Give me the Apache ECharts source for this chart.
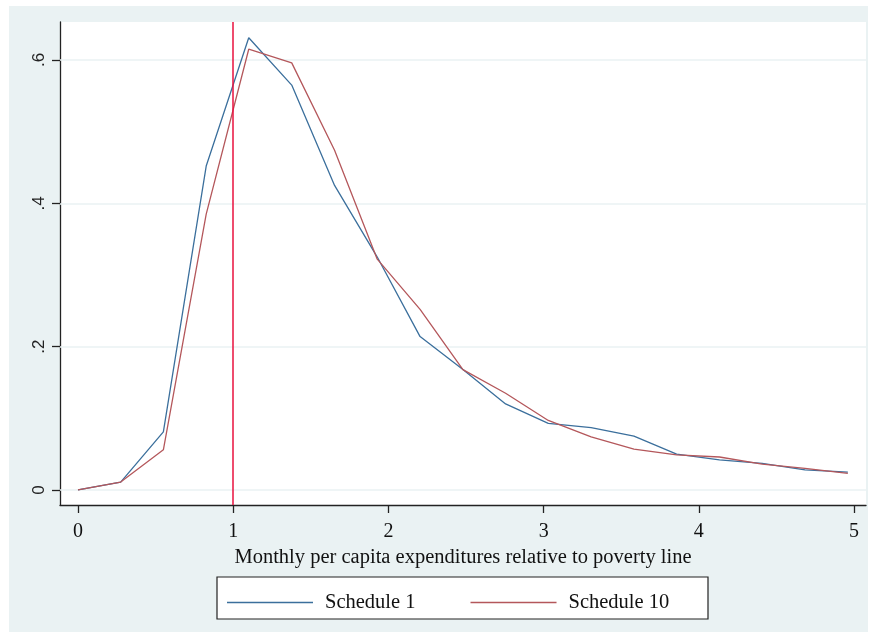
<!DOCTYPE html>
<html>
<head>
<meta charset="utf-8">
<script src="https://cdn.jsdelivr.net/npm/echarts@6/dist/echarts.min.js"></script>
<style>
  html, body { margin: 0; padding: 0; background: #fff; }
  #charts { width: 872px; height: 632px; }
</style>
</head>
<body>
<div id="charts"></div>
<script>
// values
const xValues = [0, 0.275, 0.55, 0.826, 1.1, 1.377, 1.653, 1.928, 2.204, 2.48, 2.755, 3.03, 3.306, 3.582, 3.857, 4.133, 4.408, 4.684, 4.96];
const schedule1 = [0, 0.011, 0.081, 0.452, 0.631, 0.565, 0.425, 0.325, 0.214, 0.168, 0.12, 0.093, 0.087, 0.075, 0.05, 0.042, 0.037, 0.028, 0.025];
const schedule10 = [0, 0.011, 0.056, 0.385, 0.615, 0.596, 0.474, 0.322, 0.252, 0.168, 0.135, 0.097, 0.074, 0.057, 0.049, 0.046, 0.036, 0.030, 0.023];
const xTicks = [0, 1, 2, 3, 4, 5];
const yTicks = [0, 0.2, 0.4, 0.6];
const yTickLabels = ['0', '.2', '.4', '.6'];
const povertyLine = 1;

var chartDom = document.getElementById('charts');
var myChart = echarts.init(chartDom);

const toPairs = (xs, ys) => xs.map((x, i) => [x, ys[i]]);

var option = {
    animation: false,
    backgroundColor: '#eaf2f3',
    graphic: [
        {type: 'rect', shape: {x: 0, y: 0, width: 872, height: 6}, style: {fill: '#fff'}, z: -1},
        {type: 'rect', shape: {x: 0, y: 0, width: 9, height: 632}, style: {fill: '#fff'}, z: -1},
        {type: 'rect', shape: {x: 868, y: 0, width: 4, height: 632}, style: {fill: '#fff'}, z: -1},
        {type: 'rect', shape: {x: 217, y: 577, width: 491, height: 42}, style: {fill: '#fff', stroke: '#222', lineWidth: 1.2}, z: 0}
    ],
    grid: {
        left: 60, right: 6, top: 22, bottom: 127,
        show: true, backgroundColor: '#fff', borderWidth: 0
    },
    legend: {
        left: 222, top: 587,
        itemWidth: 86, itemHeight: 1.5, itemGap: 55,
        icon: 'rect',
        textStyle: {fontFamily: 'Liberation Serif', fontSize: 20.5, color: '#111', padding: [0, 0, 0, 7]},
        data: ['Schedule 1', 'Schedule 10'],
        z: 5
    },
    xAxis: {
        type: 'value',
        min: -0.116, max: 5.077,
        name: 'Monthly per capita expenditures relative to poverty line',
        nameLocation: 'middle',
        nameGap: 35,
        nameTextStyle: {fontFamily: 'Liberation Serif', fontSize: 20.5, color: '#111'},
        axisLine: {onZero: false, lineStyle: {color: '#222', width: 1.3}},
        axisTick: {show: true, length: 8, lineStyle: {color: '#222', width: 1.3}, customValues: xTicks},
        axisLabel: {fontFamily: 'Liberation Serif', fontSize: 20, color: '#111', margin: 17, customValues: xTicks, formatter: v => String(v)},
        splitLine: {show: false}
    },
    yAxis: {
        type: 'value',
        min: -0.021, max: 0.653,
        axisLine: {show: true, onZero: false, lineStyle: {color: '#222', width: 1.3}},
        axisTick: {show: true, length: 8, lineStyle: {color: '#222', width: 1.3}, customValues: yTicks},
        axisLabel: {
            rotate: 90, fontFamily: 'Liberation Sans', fontSize: 17, color: '#222', margin: 12,
            customValues: yTicks,
            formatter: v => yTickLabels[yTicks.findIndex(t => Math.abs(t - v) < 1e-6)] || ''
        },
        splitLine: {show: false}
    },
    series: [
        {
            name: 'Schedule 1',
            type: 'line',
            data: toPairs(xValues, schedule1),
            symbol: 'none',
            lineStyle: {color: '#3b6f9c', width: 1.3},
            itemStyle: {color: '#3b6f9c'},
            z: 3,
            markLine: {
                silent: true, symbol: 'none', label: {show: false},
                lineStyle: {color: '#eaf2f3', width: 1.5, type: 'solid'},
                z: 1,
                data: yTicks.map(v => ({yAxis: v}))
            }
        },
        {
            name: 'Schedule 10',
            type: 'line',
            data: toPairs(xValues, schedule10),
            symbol: 'none',
            lineStyle: {color: '#b4575b', width: 1.3},
            itemStyle: {color: '#b4575b'},
            z: 3,
            markLine: {
                silent: true, symbol: 'none', label: {show: false},
                lineStyle: {color: '#e8103e', width: 1.5, type: 'solid', opacity: 1},
                data: [{xAxis: povertyLine}]
            }
        }
    ]
};

myChart.setOption(option);
</script>
</body>
</html>
